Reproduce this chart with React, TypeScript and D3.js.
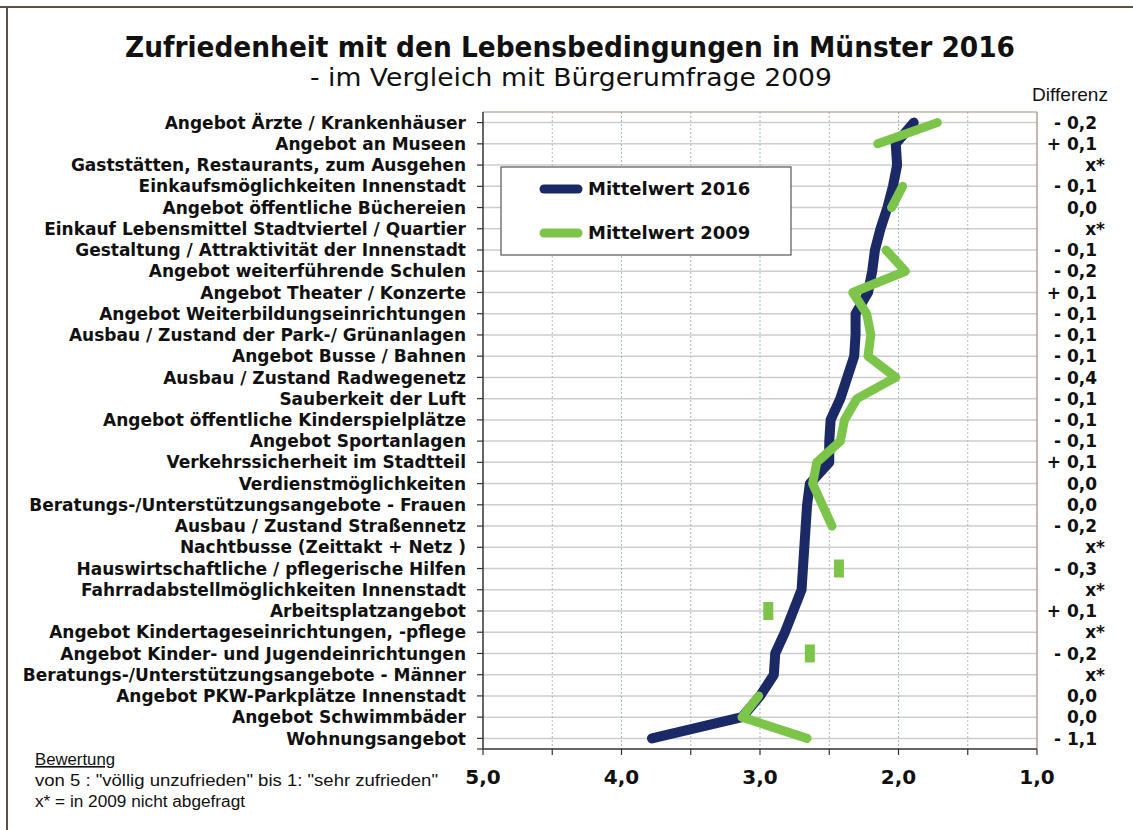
import React from "react";
import * as d3 from "d3";

const categories = [
  "Angebot Ärzte / Krankenhäuser",
  "Angebot an Museen",
  "Gaststätten, Restaurants, zum Ausgehen",
  "Einkaufsmöglichkeiten Innenstadt",
  "Angebot öffentliche Büchereien",
  "Einkauf Lebensmittel Stadtviertel / Quartier",
  "Gestaltung / Attraktivität der Innenstadt",
  "Angebot weiterführende Schulen",
  "Angebot Theater / Konzerte",
  "Angebot Weiterbildungseinrichtungen",
  "Ausbau / Zustand der Park-/ Grünanlagen",
  "Angebot Busse / Bahnen",
  "Ausbau / Zustand Radwegenetz",
  "Sauberkeit der Luft",
  "Angebot öffentliche Kinderspielplätze",
  "Angebot Sportanlagen",
  "Verkehrssicherheit im Stadtteil",
  "Verdienstmöglichkeiten",
  "Beratungs-/Unterstützungsangebote - Frauen",
  "Ausbau / Zustand Straßennetz",
  "Nachtbusse (Zeittakt + Netz )",
  "Hauswirtschaftliche / pflegerische Hilfen",
  "Fahrradabstellmöglichkeiten Innenstadt",
  "Arbeitsplatzangebot",
  "Angebot Kindertageseinrichtungen, -pflege",
  "Angebot Kinder- und Jugendeinrichtungen",
  "Beratungs-/Unterstützungsangebote - Männer",
  "Angebot PKW-Parkplätze Innenstadt",
  "Angebot Schwimmbäder",
  "Wohnungsangebot",
];

const mittelwert2016: number[] = [
  1.89, 2.02, 2.01, 2.04, 2.08, 2.13, 2.17, 2.19, 2.22, 2.31,
  2.31, 2.32, 2.37, 2.42, 2.49, 2.5, 2.5, 2.64, 2.66, 2.67,
  2.68, 2.69, 2.7, 2.76, 2.82, 2.89, 2.9, 3.0, 3.13, 3.78,
];

const mittelwert2009: (number | null)[] = [
  1.72, 2.15, null, 1.97, 2.05, null, 2.09, 1.95, 2.33, 2.23,
  2.2, 2.22, 2.02, 2.3, 2.39, 2.42, 2.59, 2.62, 2.55, 2.48,
  null, 2.43, null, 2.94, null, 2.64, null, 3.01, 3.13, 2.66,
];

const differenz = [
  "- 0,2", "+ 0,1", "x*", "- 0,1", "0,0", "x*", "- 0,1", "- 0,2", "+ 0,1", "- 0,1",
  "- 0,1", "- 0,1", "- 0,4", "- 0,1", "- 0,1", "- 0,1", "+ 0,1", "0,0", "0,0", "- 0,2",
  "x*", "- 0,3", "x*", "+ 0,1", "x*", "- 0,2", "x*", "0,0", "0,0", "- 1,1",
];

const xTicks = [5, 4, 3, 2, 1];
const gridValues = [4.5, 4, 3.5, 3, 2.5, 2, 1.5];
const tickValues = [5, 4.5, 4, 3.5, 3, 2.5, 2, 1.5, 1];

const W = 1133;
const H = 830;
const plot = { left: 483, right: 1037, top: 112, bottom: 749 };

const NAVY = "#1b2a66";
const GREEN = "#7cc54a";
const LABEL_FONT = "'DejaVu Sans', Verdana, sans-serif";
const NOTE_FONT = "'Liberation Sans', Arial, sans-serif";

export default function App() {
  const x = d3.scaleLinear().domain([5, 1]).range([plot.left, plot.right]);
  const yBand = d3
    .scaleBand<number>()
    .domain(d3.range(categories.length))
    .range([plot.top, plot.bottom])
    .paddingInner(0)
    .paddingOuter(0);
  const y = (i: number) => (yBand(i) as number) + yBand.bandwidth() / 2;

  const line2016 = d3
    .line<number>()
    .x((d) => x(d))
    .y((_, i) => y(i))(mittelwert2016) as string;

  const line2009Gen = d3
    .line<number | null>()
    .defined((d) => d != null)
    .x((d) => x(d as number))
    .y((_, i) => y(i));
  const line2009 = line2009Gen(mittelwert2009) as string;

  const isolated = mittelwert2009
    .map((v, i) => ({ v, i }))
    .filter(
      ({ v, i }) =>
        v != null &&
        (i === 0 || mittelwert2009[i - 1] == null) &&
        (i === mittelwert2009.length - 1 || mittelwert2009[i + 1] == null)
    );

  return (
    <svg
      width={W}
      height={H}
      style={{ position: "absolute", left: 0, top: 0, background: "#fff" }}
    >
      {/* outer frame */}
      <line x1={0} x2={W} y1={7} y2={7} stroke="#5e5048" strokeWidth={2} />
      <line x1={7} x2={7} y1={7} y2={H} stroke="#5e5048" strokeWidth={2} />

      {/* title */}
      <text
        x={570}
        y={57}
        textAnchor="middle"
        fontFamily={LABEL_FONT}
        fontWeight="bold"
        fontSize={29}
        textLength={890}
        lengthAdjust="spacingAndGlyphs"
        fill="#111"
      >
        Zufriedenheit mit den Lebensbedingungen in Münster 2016
      </text>
      <text
        x={571}
        y={86}
        textAnchor="middle"
        fontFamily={LABEL_FONT}
        fontSize={25}
        textLength={522}
        lengthAdjust="spacingAndGlyphs"
        fill="#111"
      >
        - im Vergleich mit Bürgerumfrage 2009
      </text>

      {/* horizontal gridlines */}
      {categories.map((c, i) => (
        <line
          key={"h" + i}
          x1={plot.left}
          x2={plot.right}
          y1={y(i)}
          y2={y(i)}
          stroke="#cdcdcd"
          strokeWidth={1.5}
        />
      ))}
      {/* vertical gridlines */}
      {gridValues.map((v) => (
        <line
          key={"v" + v}
          x1={x(v)}
          x2={x(v)}
          y1={plot.top}
          y2={plot.bottom}
          stroke={Number.isInteger(v) ? "#9fb8c8" : "#b5b5b5"}
          strokeWidth={1}
          strokeDasharray="2,2"
        />
      ))}

      {/* plot border */}
      <line x1={plot.left} x2={plot.right} y1={plot.top} y2={plot.top} stroke="#a08878" strokeWidth={1.2} />
      <line x1={plot.right} x2={plot.right} y1={plot.top} y2={plot.bottom} stroke="#a08878" strokeWidth={1.2} />

      {/* left axis */}
      <line x1={plot.left} x2={plot.left} y1={plot.top} y2={plot.bottom} stroke="#333" strokeWidth={1.5} />
      {categories.map((c, i) => (
        <line key={"t" + i} x1={plot.left - 6} x2={plot.left} y1={y(i)} y2={y(i)} stroke="#333" strokeWidth={1.2} />
      ))}
      <line x1={plot.left - 6} x2={plot.left} y1={plot.bottom} y2={plot.bottom} stroke="#333" strokeWidth={1.2} />

      {/* bottom axis */}
      <line x1={plot.left} x2={plot.right} y1={plot.bottom} y2={plot.bottom} stroke="#333" strokeWidth={1.5} />
      {tickValues.map((v) => (
        <line key={"bt" + v} x1={x(v)} x2={x(v)} y1={plot.bottom} y2={plot.bottom + 6} stroke="#333" strokeWidth={1.2} />
      ))}
      {xTicks.map((v) => (
        <text
          key={"xl" + v}
          x={x(v)}
          y={784}
          textAnchor="middle"
          fontFamily={LABEL_FONT}
          fontWeight="bold"
          fontSize={20}
          fill="#111"
        >
          {v.toFixed(1).replace(".", ",")}
        </text>
      ))}

      {/* category labels */}
      {categories.map((c, i) => (
        <text
          key={"c" + i}
          x={466}
          y={y(i)}
          dy="0.36em"
          textAnchor="end"
          fontFamily={LABEL_FONT}
          fontWeight="bold"
          fontSize={17}
          fill="#111"
        >
          {c}
        </text>
      ))}

      {/* Differenz column */}
      <text
        x={1070}
        y={101}
        textAnchor="middle"
        fontFamily={NOTE_FONT}
        fontSize={19}
        textLength={76}
        lengthAdjust="spacingAndGlyphs"
        fill="#111"
      >
        Differenz
      </text>
      {differenz.map((d, i) => (
        <text
          key={"d" + i}
          x={d === "x*" ? 1105 : 1097}
          y={y(i)}
          dy="0.36em"
          textAnchor="end"
          fontFamily={LABEL_FONT}
          fontWeight="bold"
          fontSize={17}
          fill="#111"
        >
          {d}
        </text>
      ))}

      {/* data lines */}
      <path d={line2016} fill="none" stroke={NAVY} strokeWidth={10} strokeLinejoin="round" strokeLinecap="round" />
      <path d={line2009} fill="none" stroke={GREEN} strokeWidth={9} strokeLinejoin="round" strokeLinecap="round" />
      {isolated.map(({ v, i }) => (
        <rect key={"iso" + i} x={x(v as number) - 5} y={y(i) - 9} width={10} height={18} fill={GREEN} />
      ))}

      {/* legend */}
      <rect x={501} y={167} width={290} height={88} fill="#fff" stroke="#555" strokeWidth={1.2} />
      <line x1={544} x2={578} y1={189} y2={189} stroke={NAVY} strokeWidth={9} strokeLinecap="round" />
      <text x={588} y={189} dy="0.36em" fontFamily={LABEL_FONT} fontWeight="bold" fontSize={18} fill="#111">
        Mittelwert 2016
      </text>
      <line x1={544} x2={578} y1={233} y2={233} stroke={GREEN} strokeWidth={9} strokeLinecap="round" />
      <text x={588} y={233} dy="0.36em" fontFamily={LABEL_FONT} fontWeight="bold" fontSize={18} fill="#111">
        Mittelwert 2009
      </text>

      {/* note */}
      <text
        x={35}
        y={765}
        fontFamily={NOTE_FONT}
        fontSize={16}
        textLength={80}
        lengthAdjust="spacingAndGlyphs"
        fill="#111"
        textDecoration="underline"
      >
        Bewertung
      </text>
      <text
        x={35}
        y={786}
        fontFamily={NOTE_FONT}
        fontSize={16}
        textLength={403}
        lengthAdjust="spacingAndGlyphs"
        fill="#111"
      >
        von 5 : "völlig unzufrieden"  bis 1: "sehr zufrieden"
      </text>
      <text
        x={35}
        y={807}
        fontFamily={NOTE_FONT}
        fontSize={16}
        textLength={210}
        lengthAdjust="spacingAndGlyphs"
        fill="#111"
      >
        x* = in 2009 nicht abgefragt
      </text>
    </svg>
  );
}
